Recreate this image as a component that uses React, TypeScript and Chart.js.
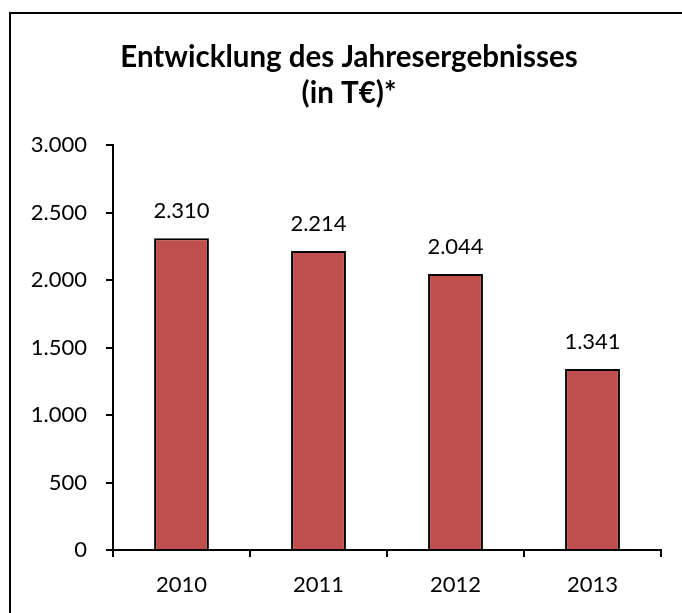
import React, { useEffect, useRef } from 'react';
import { Chart, registerables } from 'chart.js';

Chart.register(...registerables);

const categories = ['2010', '2011', '2012', '2013'];
const values = [2310, 2214, 2044, 1341];
const titleLines = ['Entwicklung des Jahresergebnisses', '(in T€)*'];
const yMin = 0;
const yMax = 3000;
const yStep = 500;

const FONT = 'Lato, "Open Sans", sans-serif';
const BAR_COLOR = '#C0504D';

const fmt = (v: number) => String(Math.round(v)).replace(/\B(?=(\d{3})+(?!\d))/g, '.');

const dataLabels = {
  id: 'dataLabels',
  afterDatasetsDraw(chart: any) {
    const ctx = chart.ctx;
    const meta = chart.getDatasetMeta(0);
    ctx.save();
    ctx.font = `22px ${FONT}`;
    ctx.fillStyle = '#000';
    ctx.textAlign = 'center';
    ctx.textBaseline = 'middle';
    meta.data.forEach((el: any, i: number) => {
      const v = chart.data.datasets[0].data[i];
      ctx.fillText(fmt(v), el.x, el.y - 27);
    });
    ctx.restore();
  },
};

const chartTitle = {
  id: 'chartTitle',
  afterDraw(chart: any) {
    const ctx = chart.ctx;
    ctx.save();
    ctx.font = `bold 29.5px ${FONT}`;
    ctx.fillStyle = '#000';
    ctx.textAlign = 'center';
    ctx.textBaseline = 'middle';
    const cx = 349;
    titleLines.forEach((line, i) => {
      ctx.fillText(line, cx, 57 + i * 36);
    });
    ctx.restore();
  },
};

export default function App() {
  const ref = useRef<HTMLCanvasElement | null>(null);

  useEffect(() => {
    if (!ref.current) return;
    const chart = new Chart(ref.current, {
      type: 'bar',
      data: {
        labels: categories,
        datasets: [
          {
            data: values,
            backgroundColor: BAR_COLOR,
            borderColor: '#000',
            borderWidth: 2,
            borderSkipped: 'bottom',
            categoryPercentage: 1,
            barPercentage: 0.4,
          },
        ],
      },
      options: {
        responsive: false,
        animation: false,
        events: [],
        layout: { padding: { left: 0, right: 21, top: 145, bottom: 13 } },
        plugins: {
          legend: { display: false },
          tooltip: { enabled: false },
          title: { display: false },
        },
        scales: {
          x: {
            grid: {
              display: true,
              offset: true,
              drawOnChartArea: false,
              drawTicks: true,
              tickLength: 7,
              color: '#000',
              lineWidth: 2,
            },
            border: { display: true, color: '#000', width: 2 },
            ticks: {
              color: '#000',
              font: { family: FONT, size: 22 },
              padding: 15,
            },
            afterFit(scale: any) {
              scale.height = 50;
            },
          },
          y: {
            min: yMin,
            max: yMax,
            grid: {
              display: true,
              drawOnChartArea: false,
              drawTicks: true,
              tickLength: 7,
              color: '#000',
              lineWidth: 2,
            },
            border: { display: true, color: '#000', width: 2 },
            ticks: {
              stepSize: yStep,
              color: '#000',
              font: { family: FONT, size: 22 },
              padding: 19,
              callback: (v: any) => fmt(Number(v)),
            },
            afterFit(scale: any) {
              scale.width = 113;
            },
          },
        },
      },
      plugins: [dataLabels, chartTitle],
    });
    return () => chart.destroy();
  }, []);

  return (
    <div style={{ position: 'absolute', left: 0, top: 0, width: 682, height: 613, overflow: 'hidden', background: '#fff' }}>
      <div
        style={{
          position: 'absolute',
          left: 9,
          top: 12,
          width: 800,
          height: 800,
          borderTop: '2px solid #000',
          borderLeft: '2px solid #000',
        }}
      />
      <canvas ref={ref} width={682} height={613} style={{ position: 'absolute', left: 0, top: 0 }} />
    </div>
  );
}
